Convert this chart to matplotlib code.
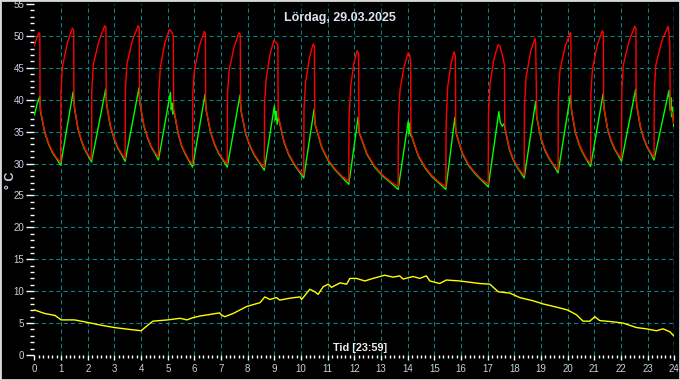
import matplotlib
matplotlib.use('Agg')
import matplotlib.pyplot as plt
import matplotlib.transforms as mtransforms
from matplotlib.patches import Rectangle
from matplotlib.ticker import MultipleLocator
import numpy as np

plt.rcParams['font.family'] = ['Liberation Sans', 'DejaVu Sans']

title = 'Lördag, 29.03.2025'
x_label = 'Tid [23:59]'
y_label = '° C'

# flow temperature (red), hour -> °C
red = [
    (0.00, 48.5), (0.08, 49.6), (0.17, 50.5), (0.20, 50.3), (0.21, 39.5), (0.24, 38.0),
    (0.39, 34.9), (0.54, 33.1), (0.68, 31.8), (0.83, 30.9), (0.98, 30.2),
    (0.99, 41.0), (1.05, 45.2), (1.24, 49.0), (1.42, 51.2), (1.47, 50.9), (1.48, 39.5), (1.50, 38.9),
    (1.63, 35.6), (1.76, 33.7), (1.88, 32.4), (2.01, 31.4), (2.14, 30.7),
    (2.15, 41.4), (2.21, 45.6), (2.43, 49.4), (2.64, 51.6), (2.68, 51.3), (2.69, 40.0), (2.71, 39.3),
    (2.85, 35.9), (2.99, 34.0), (3.12, 32.6), (3.26, 31.6), (3.40, 30.8),
    (3.41, 41.6), (3.47, 45.6), (3.68, 49.4), (3.89, 51.6), (3.93, 51.3), (3.94, 40.2), (3.96, 39.5),
    (4.10, 36.1), (4.24, 34.2), (4.37, 32.8), (4.51, 31.8), (4.65, 31.0),
    (4.66, 40.8), (4.72, 45.0), (4.89, 48.9), (5.06, 51.0), (5.15, 50.6), (5.21, 50.0), (5.22, 38.5), (5.25, 38.0),
    (5.39, 34.8), (5.52, 32.9), (5.66, 31.6), (5.79, 30.6), (5.93, 29.9),
    (5.94, 41.0), (6.00, 44.7), (6.19, 48.5), (6.37, 50.7), (6.41, 50.4), (6.42, 39.2), (6.44, 38.5),
    (6.60, 35.1), (6.76, 33.1), (6.91, 31.7), (7.07, 30.7), (7.23, 29.9),
    (7.24, 40.9), (7.30, 44.5), (7.49, 48.3), (7.67, 50.5), (7.72, 50.2), (7.73, 39.0), (7.75, 38.4),
    (7.92, 34.8), (8.10, 32.7), (8.27, 31.3), (8.45, 30.2), (8.62, 29.4),
    (8.63, 39.2), (8.69, 43.3), (8.84, 47.2), (8.98, 49.3), (9.05, 49.0), (9.13, 48.6), (9.14, 37.5), (9.17, 37.0),
    (9.36, 33.5), (9.54, 31.5), (9.73, 30.1), (9.91, 29.0), (10.10, 28.2),
    (10.11, 38.5), (10.17, 42.7), (10.31, 46.5), (10.45, 48.7), (10.50, 48.4), (10.51, 36.8), (10.53, 36.2),
    (10.78, 32.6), (11.03, 30.5), (11.29, 29.1), (11.54, 28.0), (11.79, 27.2),
    (11.80, 37.2), (11.86, 42.0), (11.98, 45.7), (12.10, 47.7), (12.16, 47.2), (12.17, 35.6), (12.18, 35.0),
    (12.47, 31.6), (12.76, 29.6), (13.06, 28.2), (13.35, 27.2), (13.64, 26.4),
    (13.65, 36.5), (13.71, 41.5), (13.87, 45.3), (14.02, 47.4), (14.07, 47.0), (14.11, 46.0), (14.12, 35.0), (14.14, 34.5),
    (14.40, 31.3), (14.66, 29.4), (14.91, 28.1), (15.17, 27.1), (15.43, 26.4),
    (15.44, 36.0), (15.50, 42.0), (15.62, 45.5), (15.74, 47.5), (15.79, 46.8), (15.80, 35.6), (15.81, 35.0),
    (16.05, 31.7), (16.29, 29.8), (16.54, 28.5), (16.78, 27.5), (17.02, 26.8),
    (17.03, 37.5), (17.09, 42.5), (17.24, 46.5), (17.39, 48.6), (17.45, 48.5), (17.55, 47.0), (17.63, 45.5), (17.64, 36.0), (17.67, 35.2),
    (17.81, 32.4), (17.95, 30.8), (18.09, 29.7), (18.23, 28.8), (18.37, 28.2),
    (18.38, 39.0), (18.44, 43.5), (18.61, 47.5), (18.77, 49.6), (18.80, 49.0), (18.83, 40.0), (18.84, 37.4),
    (19.00, 34.0), (19.16, 32.1), (19.32, 30.8), (19.48, 29.8), (19.64, 29.0),
    (19.65, 40.5), (19.71, 44.6), (19.91, 48.4), (20.10, 50.5), (20.12, 50.3), (20.13, 39.0), (20.15, 38.3),
    (20.29, 35.0), (20.43, 33.1), (20.58, 31.7), (20.72, 30.7), (20.86, 30.0),
    (20.87, 40.8), (20.93, 44.8), (21.12, 48.7), (21.30, 50.8), (21.34, 50.5), (21.35, 39.3), (21.37, 38.6),
    (21.50, 35.5), (21.63, 33.7), (21.76, 32.4), (21.89, 31.5), (22.02, 30.8),
    (22.03, 41.5), (22.09, 45.5), (22.31, 49.3), (22.52, 51.5), (22.56, 51.2), (22.57, 40.0), (22.59, 39.3),
    (22.72, 36.0), (22.85, 34.1), (22.98, 32.7), (23.11, 31.8), (23.24, 31.0),
    (23.25, 41.3), (23.31, 45.5), (23.54, 49.3), (23.77, 51.5), (23.80, 50.5), (23.83, 48.7), (23.85, 38.5), (23.92, 38.0), (23.98, 36.3),
]

# return temperature (green)
green = [
    (0.00, 37.8), (0.10, 39.5), (0.20, 40.7), (0.22, 38.5), (0.24, 38.0),
    (0.39, 34.9), (0.54, 33.1), (0.68, 31.8), (0.83, 30.9), (0.98, 29.9),
    (1.45, 41.4), (1.50, 38.9),
    (1.63, 35.6), (1.76, 33.7), (1.88, 32.4), (2.01, 31.4), (2.14, 30.4),
    (2.67, 41.8), (2.71, 39.3),
    (2.85, 35.9), (2.99, 34.0), (3.12, 32.6), (3.26, 31.6), (3.40, 30.5),
    (3.92, 42.0), (3.96, 39.5),
    (4.10, 36.1), (4.24, 34.2), (4.37, 32.8), (4.51, 31.8), (4.65, 30.7),
    (5.10, 41.3), (5.13, 38.6), (5.16, 39.6), (5.19, 37.9), (5.22, 38.6), (5.25, 38.0),
    (5.39, 34.8), (5.52, 32.9), (5.66, 31.6), (5.79, 30.6), (5.93, 29.6),
    (6.40, 41.0), (6.44, 38.5),
    (6.60, 35.1), (6.76, 33.1), (6.91, 31.7), (7.07, 30.7), (7.23, 29.6),
    (7.71, 40.9), (7.75, 38.4),
    (7.92, 34.8), (8.10, 32.7), (8.27, 31.3), (8.45, 30.2), (8.62, 29.1),
    (9.00, 39.2), (9.04, 37.0), (9.07, 38.3), (9.10, 36.3), (9.14, 37.3), (9.17, 37.0),
    (9.36, 33.5), (9.54, 31.5), (9.73, 30.1), (9.91, 29.0), (10.10, 27.9),
    (10.49, 38.7), (10.53, 36.2),
    (10.78, 32.6), (11.03, 30.5), (11.29, 29.1), (11.54, 28.0), (11.79, 26.9),
    (12.14, 37.4), (12.18, 35.0),
    (12.47, 31.6), (12.76, 29.6), (13.06, 28.2), (13.35, 27.2), (13.64, 26.1),
    (14.02, 36.8), (14.05, 34.8), (14.08, 36.5), (14.11, 34.5), (14.14, 34.5),
    (14.40, 31.3), (14.66, 29.4), (14.91, 28.1), (15.17, 27.1), (15.43, 26.1),
    (15.77, 37.4), (15.81, 35.0),
    (16.05, 31.7), (16.29, 29.8), (16.54, 28.5), (16.78, 27.5), (17.02, 26.5),
    (17.42, 38.3), (17.47, 36.6), (17.55, 36.0), (17.62, 36.4), (17.67, 35.2),
    (17.81, 32.4), (17.95, 30.8), (18.09, 29.7), (18.23, 28.8), (18.37, 27.9),
    (18.80, 39.9), (18.84, 37.4),
    (19.00, 34.0), (19.16, 32.1), (19.32, 30.8), (19.48, 29.8), (19.64, 28.7),
    (20.10, 40.8), (20.15, 38.3),
    (20.29, 35.0), (20.43, 33.1), (20.58, 31.7), (20.72, 30.7), (20.86, 29.7),
    (21.33, 41.1), (21.37, 38.6),
    (21.50, 35.5), (21.63, 33.7), (21.76, 32.4), (21.89, 31.5), (22.02, 30.5),
    (22.55, 41.8), (22.59, 39.3),
    (22.72, 36.0), (22.85, 34.1), (22.98, 32.7), (23.11, 31.8), (23.24, 30.7),
    (23.80, 41.6), (23.84, 38.5), (23.87, 40.5), (23.90, 37.5), (23.93, 39.0), (23.98, 36.0),
]

# outdoor temperature (yellow)
outdoor = [
    (0.00, 7.05), (0.39, 6.5), (0.77, 6.2), (1.00, 5.5), (1.50, 5.5), (2.00, 5.1), (2.46, 4.7),
    (3.00, 4.3), (3.58, 4.0), (4.00, 3.8), (4.26, 4.7), (4.44, 5.3), (5.00, 5.5), (5.46, 5.75),
    (5.72, 5.5), (5.94, 5.85), (6.20, 6.1), (6.95, 6.6), (7.00, 6.3), (7.14, 6.0), (7.45, 6.5),
    (7.96, 7.6), (8.46, 8.2), (8.64, 9.1), (8.83, 8.7), (9.08, 9.0), (9.20, 8.6), (9.58, 8.9),
    (9.96, 9.1), (10.02, 8.7), (10.33, 10.3), (10.52, 9.9), (10.64, 9.5), (10.83, 10.7),
    (11.02, 11.1), (11.14, 10.6), (11.46, 11.3), (11.71, 11.1), (11.83, 12.0), (12.08, 12.0),
    (12.39, 11.6), (12.70, 12.0), (13.14, 12.5), (13.45, 12.2), (13.70, 12.4), (13.83, 11.9),
    (14.20, 12.3), (14.45, 12.0), (14.70, 12.4), (14.83, 11.6), (15.20, 11.2), (15.45, 11.75),
    (15.95, 11.6), (16.33, 11.4), (16.70, 11.2), (17.08, 11.1), (17.40, 9.9), (17.83, 9.7),
    (18.20, 9.0), (18.70, 8.5), (19.08, 8.0), (19.58, 7.5), (20.00, 7.05), (20.33, 6.3),
    (20.58, 5.3), (20.83, 5.3), (21.02, 6.0), (21.20, 5.4), (21.70, 5.2), (22.08, 5.0),
    (22.58, 4.3), (22.95, 4.1), (23.33, 3.8), (23.58, 4.1), (23.83, 3.65), (23.98, 3.0),
]

hour_grid = list(range(1, 24))
temp_grid = list(range(5, 55, 5))

fig = plt.figure(figsize=(6.8, 3.8), dpi=100, facecolor='black')
ax = fig.add_axes([0.0507, 0.0658, 0.9409, 0.9237])
ax.set_facecolor('black')
for s in ax.spines.values():
    s.set_visible(False)

grid_col = '#008888'
for h in hour_grid:
    ax.axvline(h, color=grid_col, lw=0.75, dashes=(4, 3), zorder=1)
for t in temp_grid:
    ax.axhline(t, color=grid_col, lw=0.75, dashes=(4, 3), zorder=1)
ax.axvline(24, color='#40e0f0', lw=1.0, dashes=(4, 2.5), zorder=1)

# green drawn one pixel lower so both traces show where they overlap
shift = mtransforms.offset_copy(ax.transData, fig=fig, x=0, y=-1, units='dots')
gx, gy = np.array(green).T
rx, ry = np.array(red).T
ox, oy = np.array(outdoor).T
ax.plot(gx, gy, color='#00ff00', lw=1.0, transform=shift, zorder=3)
ax.plot(rx, ry, color='#ff0000', lw=1.0, zorder=4)
ax.plot(ox, oy, color='#ffff00', lw=1.0, zorder=4)

ax.set_xlim(0, 24)
ax.set_ylim(0, 55)
ax.xaxis.set_major_locator(MultipleLocator(1))
ax.xaxis.set_minor_locator(MultipleLocator(1 / 6))
ax.yaxis.set_major_locator(MultipleLocator(5))
ax.yaxis.set_minor_locator(MultipleLocator(1))
lab_col = '#c8d0e0'
ax.tick_params(axis='x', which='major', length=3.6, width=1, color='white',
               labelcolor=lab_col, labelsize=7, pad=3)
ax.tick_params(axis='x', which='minor', length=2.4, width=1, color='white')
ax.tick_params(axis='y', which='major', length=5.8, width=1, color='white',
               labelcolor=lab_col, labelsize=7, pad=1.5)
ax.tick_params(axis='y', which='minor', length=2.8, width=1, color='white')

fig.text(0.5, 1 - 18 / 380, title, ha='center', va='center', color='#dde2ee',
         fontsize=9, fontweight='bold')
fig.text(360 / 680, 1 - 348 / 380, x_label, ha='center', va='center', color='#eeeeee',
         fontsize=7.8, fontweight='bold')
fig.text(11 / 680, 1 - 180 / 380, y_label, ha='center', va='center', rotation=90,
         color=lab_col, fontsize=9, fontweight='bold')

fig.patches.append(Rectangle((0, 0), 1, 1, transform=fig.transFigure, fill=False,
                             edgecolor='#d8d8d8', lw=2, zorder=10))

fig.savefig('out.png', dpi=100, facecolor='black')
